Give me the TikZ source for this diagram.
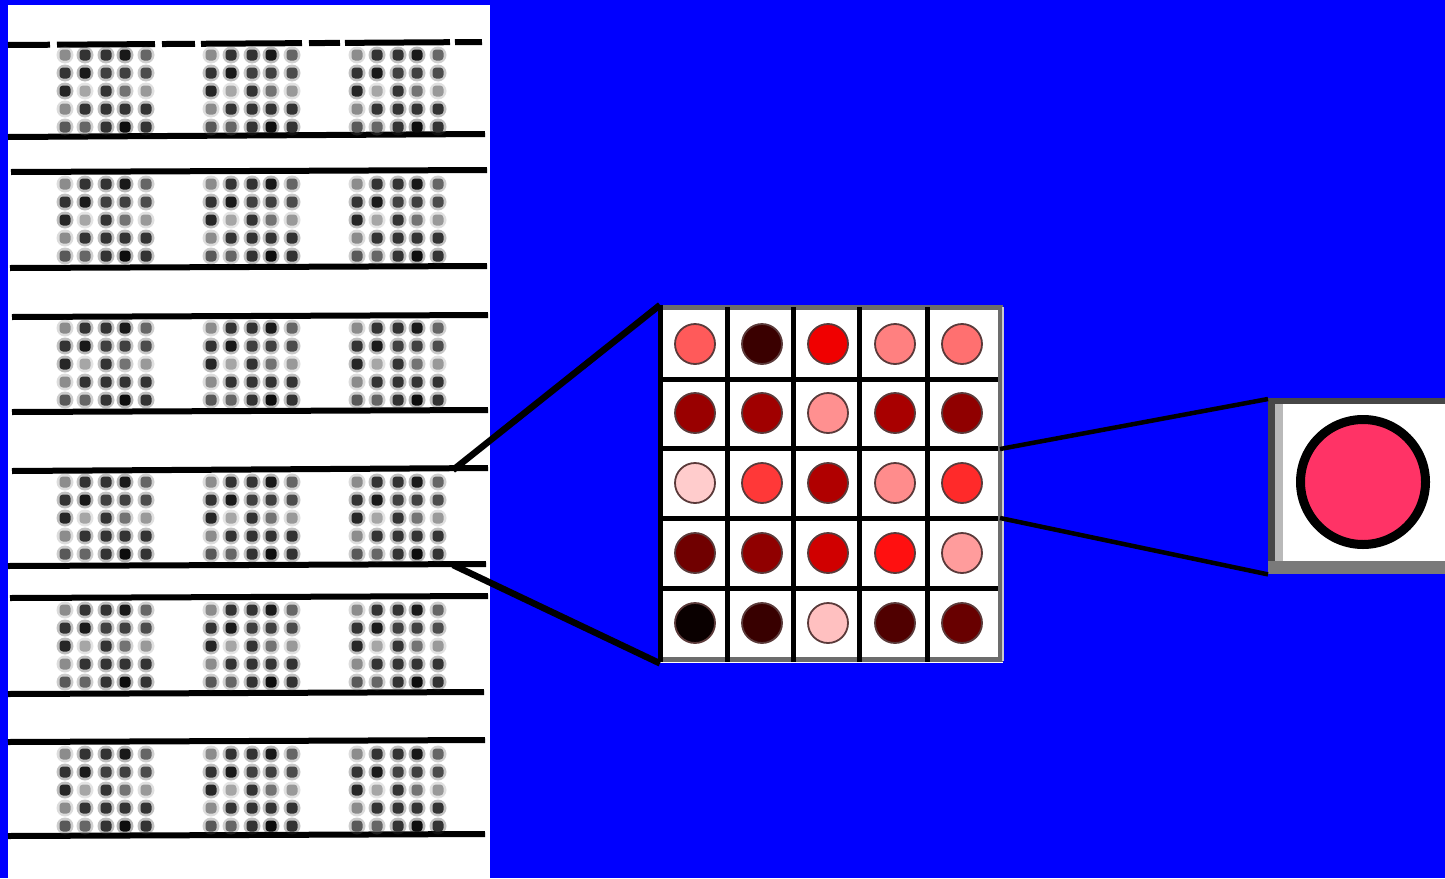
\documentclass[tikz,border=0pt]{standalone}
\usetikzlibrary{calc}
\definecolor{bluebg}{HTML}{0000FF}
\definecolor{circfill}{HTML}{FF3366}
\definecolor{cellring}{HTML}{5A3A3A}
\tikzset{
  rule/.style={line width=6pt},
  connL/.style={line width=6.5pt},
  connR/.style={line width=4.5pt},
  gridline/.style={line width=5pt, black},
  reddot/.style={draw=cellring, line width=1.8pt},
}
\newcommand{\dotgrid}[2]{%
  \foreach \dx/\dy/\v in {0/-36/45,20/-36/80,41/-36/80,60/-36/90,81/-36/60,
                          0/-18/80,20/-18/90,41/-18/75,60/-18/75,81/-18/70,
                          0/0/85,20/0/35,41/0/80,60/0/55,81/0/40,
                          0/18/45,20/18/80,41/18/80,60/18/80,81/18/80,
                          0/36/65,20/36/60,41/36/80,60/36/95,81/36/80}{
    \fill[black!\v, opacity=0.3] (#1+\dx,#2+\dy) circle (8.5);
    \fill[black!\v, rounded corners=3.5pt] (#1+\dx-5.5,#2+\dy-5.5) rectangle ++(11,11);
  }%
}
\begin{document}
\begin{tikzpicture}[x=1pt,y=-1pt]
\useasboundingbox (0,0) rectangle (1445,878);
\fill[bluebg] (0,0) rectangle (1445,878);

% left panel
\node[fill=white, inner sep=0pt, minimum width=482pt, minimum height=873pt, anchor=north west] (panel) at (8,5) {};

% rules
\draw[rule, dash pattern=on 42pt off 7pt on 98pt off 7pt on 33pt off 6pt on 101pt off 7pt on 31pt off 5pt on 105pt off 5pt on 27pt off 50pt] (8,45) -- (483,42);
\draw[rule] (8,137) -- (485,134);
\draw[rule] (11,172) -- (487,170);
\draw[rule] (10,268) -- (487,266);
\draw[rule] (12,317) -- (488,315);
\draw[rule] (12,412) -- (488,410);
\draw[rule] (12,471) -- (488,468);
\draw[rule] (8,566) -- (486,564);
\draw[rule] (10,598) -- (488,596);
\draw[rule] (8,694) -- (484,692);
\draw[rule] (8,742) -- (485,740);
\draw[rule] (8,836) -- (485,834);

% dot grids
\foreach \yc in {91,220,364,518,646,790}{
  \foreach \gx in {65,211,357}{
    \dotgrid{\gx}{\yc}
  }
}

% middle grid
\node[fill=white, inner sep=0pt, minimum width=343pt, minimum height=358pt, anchor=north west] (grid) at (660,305) {};
\draw[line width=5pt, gray!85!black] (660,307) -- (1000,307) -- (1000,659) -- (660,659);
\draw[line width=1.5pt, gray!40] (1003,307) -- (1003,661);
\foreach \x in {727,793,859,927}{
  \draw[gridline] (\x,307) -- (\x,662);
}
\draw[gridline] (660,305) -- (660,662);
\foreach \y in {379,448,518,588}{
  \draw[gridline] (660,\y) -- (998,\y);
}
\foreach \r/\y in {1/344,2/413,3/483,4/553,5/623}{
  \foreach \c/\x in {1/695,2/762,3/828,4/895,5/962}{
    \coordinate (c\r\c) at (\x,\y);
  }
}
\foreach \n/\col in {c11/FF5A5A,c12/3A0000,c13/F00000,c14/FF8080,c15/FF7070,
                     c21/990000,c22/A00000,c23/FF9090,c24/A80000,c25/900000,
                     c31/FFCCCC,c32/FF3838,c33/B00000,c34/FF8C8C,c35/FF2A2A,
                     c41/700000,c42/900000,c43/D00000,c44/FF1010,c45/FF9C9C,
                     c51/0A0000,c52/380000,c53/FFC0C0,c54/500000,c55/680000}{
  \definecolor{tmpc}{HTML}{\col}
  \fill[tmpc] (\n) circle (20);
  \draw[reddot] (\n) circle (20);
}

% right box
\node[fill=white, inner sep=0pt, minimum width=177pt, minimum height=175pt, anchor=north west] (outbox) at (1268,399) {};
\fill[gray!55] (1275,403) rectangle (1283,566);
\fill[black!72] (1268,398) rectangle (1275,573);
\fill[black!72] (1268,398) rectangle (1445,404);
\fill[black!52] (1268,561) rectangle (1445,574);
\node[circle, draw=black, line width=9pt, fill=circfill, minimum size=125pt, inner sep=0pt] (pix) at (1363,482) {};

% connectors
\coordinate (pa) at (453,470);
\coordinate (pb) at (453,565);
\draw[connL] (pa) -- (grid.north west);
\draw[connL] (pb) -- (grid.south west);
\coordinate (ga) at (1000,449);
\coordinate (gb) at (1000,518);
\draw[connR] (ga) -- (outbox.north west);
\draw[connR] (gb) -- (outbox.south west);
\end{tikzpicture}
\end{document}
